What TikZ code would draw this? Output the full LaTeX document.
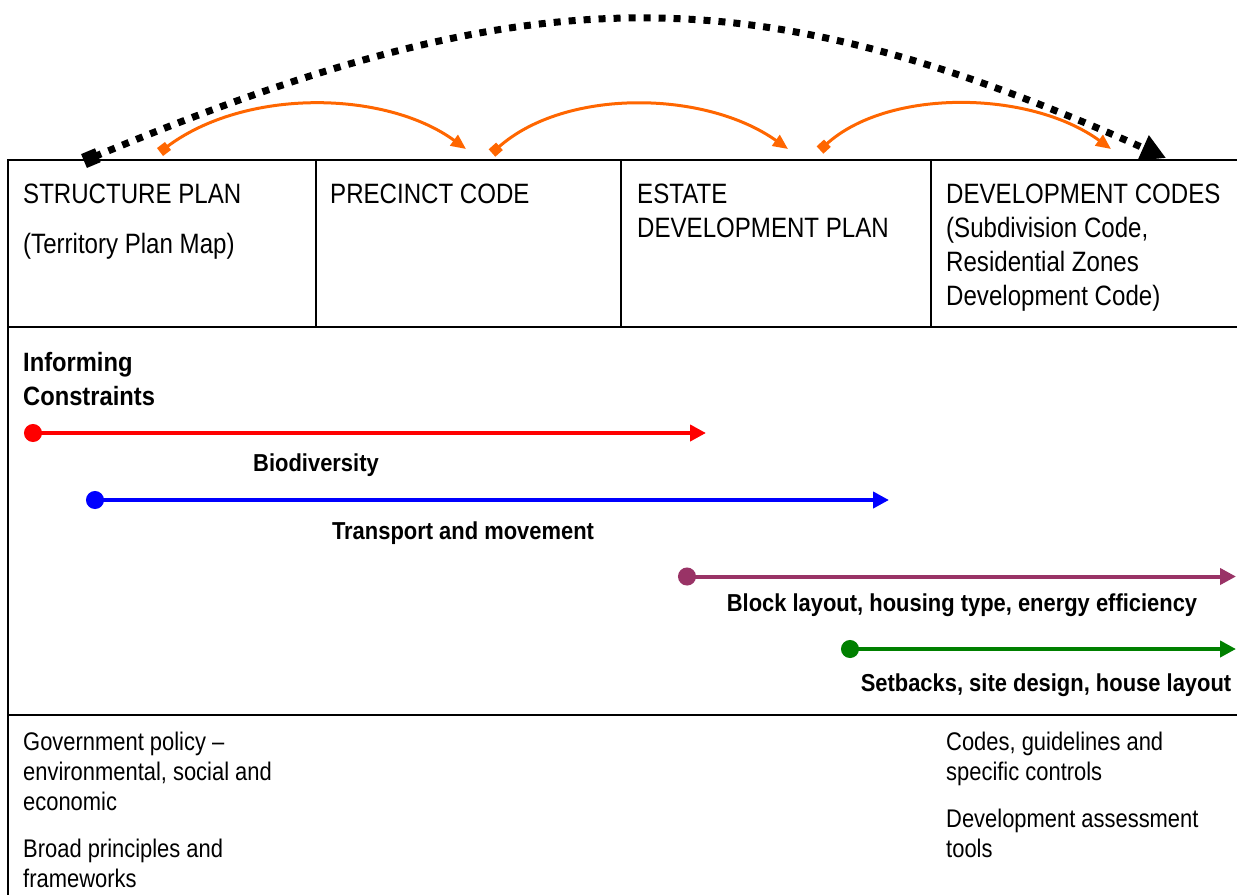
\documentclass[tikz,border=0pt]{standalone}
\usepackage{fontspec}
\setmainfont{Liberation Sans}[FakeStretch=0.86]
\newfontfamily\boldlbl{Liberation Sans}[FakeStretch=0.895]
\usetikzlibrary{arrows.meta}
\definecolor{orng}{RGB}{255,102,0}
\definecolor{cred}{RGB}{255,0,0}
\definecolor{cblue}{RGB}{0,0,255}
\definecolor{cpurple}{RGB}{153,51,102}
\definecolor{cgreen}{RGB}{0,128,0}
\tikzset{
  frame/.style={line width=2pt,black},
  txt/.style={inner sep=0pt,anchor=base west,align=left,font=\fontsize{28}{34}\selectfont},
  btxt/.style={inner sep=0pt,anchor=base west,align=left,font=\fontsize{25.5}{30}\selectfont},
  lbl/.style={inner sep=0pt,anchor=base,font=\boldlbl\bfseries\fontsize{24.5}{30}\selectfont},
  constraint/.style={line width=4pt,{Circle[length=18pt]}-{Triangle[length=16pt,width=16pt]}},
  orarrow/.style={orng,line width=3pt,{Square[length=10pt,width=10pt]}-{Triangle[length=15pt,width=13pt]}},
  bigarrow/.style={black,line width=7pt,dash pattern=on 7pt off 8pt,{Square[length=15pt,width=15pt]}-{Triangle[length=25pt,width=26pt]}}
}
\begin{document}
\begin{tikzpicture}[x=1pt,y=-1pt]
\useasboundingbox (0,0) rectangle (1237,895);
% frame
\draw[frame] (1237,160) -- (8,160) -- (8,895);
\draw[frame] (8,327) -- (1237,327);
\draw[frame] (8,715) -- (1237,715);
\draw[frame] (316,160) -- (316,327);
\draw[frame] (621,160) -- (621,327);
\draw[frame] (931,160) -- (931,327);
% top texts (anchor = baseline of last line)
\node[txt] (sp) at (23,203) {STRUCTURE PLAN};
\node[txt] (tpm) at (23,253) {(Territory Plan Map)};
\node[txt] (pc) at (330,203) {PRECINCT CODE};
\node[txt] (edp) at (637,237) {ESTATE\\DEVELOPMENT PLAN};
\node[txt] (dc) at (946,305) {DEVELOPMENT CODES\\(Subdivision Code,\\Residential Zones\\Development Code)};
% informing constraints
\node[inner sep=0pt,anchor=base west,align=left,font=\boldlbl\bfseries\fontsize{26.5}{34}\selectfont] (ic) at (23,405) {Informing\\Constraints};
% constraint arrows
\coordinate (r1) at (24,433); \coordinate (r2) at (706,433);
\draw[constraint,cred] (r1) -- (r2);
\node[lbl] (bio) at (316,471) {Biodiversity};
\coordinate (b1) at (86,500); \coordinate (b2) at (889,500);
\draw[constraint,cblue] (b1) -- (b2);
\node[lbl] (tm) at (463,539) {Transport and movement};
\coordinate (p1) at (678,576.5); \coordinate (p2) at (1236,576.5);
\draw[constraint,cpurple] (p1) -- (p2);
\node[lbl] (bl) at (962,611) {Block layout, housing type, energy efficiency};
\coordinate (g1) at (841,649); \coordinate (g2) at (1236,649);
\draw[constraint,cgreen] (g1) -- (g2);
\node[lbl] (sb) at (1046,691) {Setbacks, site design, house layout};
% bottom texts (anchor = baseline of last line)
\node[btxt] (gp) at (23,810) {Government policy --\\environmental, social and\\economic};
\node[btxt] (bp) at (23,887) {Broad principles and\\frameworks};
\node[btxt] (cg) at (946,780) {Codes, guidelines and\\specific controls};
\node[btxt] (da) at (946,857) {Development assessment\\tools};
% orange arrows
\coordinate (o1s) at (160,152); \coordinate (o1e) at (466,149);
\draw[orarrow] (o1s) .. controls (245,88) and (385,90) .. (o1e);
\coordinate (o2s) at (492,153); \coordinate (o2e) at (788,149);
\draw[orarrow] (o2s) .. controls (565,88) and (705,90) .. (o2e);
\coordinate (o3s) at (820,150); \coordinate (o3e) at (1111,149);
\draw[orarrow] (o3s) .. controls (888,88) and (1030,90) .. (o3e);
% big dotted arrow
\coordinate (bs) at (84,161); \coordinate (be) at (1166,158);
\draw[bigarrow] (bs) .. controls (534,-27) and (750,-27) .. (be);
\end{tikzpicture}
\end{document}
